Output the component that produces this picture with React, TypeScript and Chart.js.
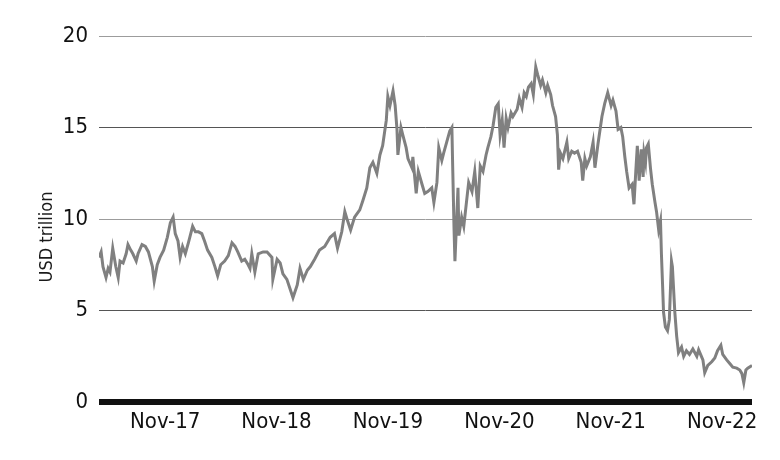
import React, { useEffect, useRef } from "react";
import { Chart, registerables } from "chart.js";

Chart.register(...registerables);

const dates: string[] = [
  "2017-04-03", "2017-04-10", "2017-04-16", "2017-04-26", "2017-05-03", "2017-05-09", "2017-05-18", "2017-05-28",
  "2017-06-05", "2017-06-11", "2017-06-21", "2017-07-01", "2017-07-07", "2017-07-16", "2017-07-23", "2017-08-03",
  "2017-08-09", "2017-08-22", "2017-09-02", "2017-09-12", "2017-09-25", "2017-10-01", "2017-10-11", "2017-10-20",
  "2017-11-01", "2017-11-13", "2017-11-23", "2017-12-02", "2017-12-09", "2017-12-18", "2017-12-25", "2018-01-02",
  "2018-01-11", "2018-01-21", "2018-02-04", "2018-02-13", "2018-02-23", "2018-03-06", "2018-03-15", "2018-03-25",
  "2018-04-08", "2018-04-18", "2018-04-27", "2018-05-07", "2018-05-20", "2018-06-01", "2018-06-13", "2018-06-23",
  "2018-07-02", "2018-07-15", "2018-07-25", "2018-08-05", "2018-08-11", "2018-08-17", "2018-08-27", "2018-09-07",
  "2018-09-23", "2018-10-06", "2018-10-22", "2018-10-25", "2018-11-08", "2018-11-18", "2018-11-27", "2018-12-10",
  "2018-12-20", "2018-12-30", "2019-01-13", "2019-01-22", "2019-02-02", "2019-02-15", "2019-02-25", "2019-03-11",
  "2019-03-27", "2019-04-13", "2019-05-01", "2019-05-15", "2019-05-25", "2019-06-08", "2019-06-18", "2019-06-27",
  "2019-07-07", "2019-07-20", "2019-08-06", "2019-08-16", "2019-08-29", "2019-09-08", "2019-09-18", "2019-10-01",
  "2019-10-11", "2019-10-20", "2019-11-01", "2019-11-06", "2019-11-13", "2019-11-23", "2019-11-30", "2019-12-06",
  "2019-12-09", "2019-12-19", "2019-12-25", "2020-01-05", "2020-01-11", "2020-01-24", "2020-01-27", "2020-02-07",
  "2020-02-14", "2020-02-26", "2020-03-06", "2020-03-16", "2020-03-29", "2020-04-05", "2020-04-15", "2020-04-21",
  "2020-05-01", "2020-05-07", "2020-05-17", "2020-05-27", "2020-06-03", "2020-06-06", "2020-06-10", "2020-06-13",
  "2020-06-19", "2020-06-23", "2020-06-26", "2020-07-05", "2020-07-12", "2020-07-22", "2020-07-28", "2020-08-08",
  "2020-08-17", "2020-08-27", "2020-09-04", "2020-09-13", "2020-09-23", "2020-09-29", "2020-10-09", "2020-10-16",
  "2020-10-25", "2020-11-02", "2020-11-08", "2020-11-15", "2020-11-21", "2020-11-28", "2020-12-04", "2020-12-14",
  "2020-12-20", "2021-01-03", "2021-01-10", "2021-01-19", "2021-01-26", "2021-02-02", "2021-02-09", "2021-02-18",
  "2021-02-25", "2021-03-05", "2021-03-11", "2021-03-21", "2021-03-27", "2021-04-07", "2021-04-13", "2021-04-23",
  "2021-04-29", "2021-05-09", "2021-05-15", "2021-05-19", "2021-05-25", "2021-06-02", "2021-06-15", "2021-06-21",
  "2021-07-01", "2021-07-10", "2021-07-20", "2021-08-01", "2021-08-06", "2021-08-13", "2021-08-19", "2021-08-31",
  "2021-09-09", "2021-09-15", "2021-09-25", "2021-10-08", "2021-10-17", "2021-10-27", "2021-11-07", "2021-11-13",
  "2021-11-23", "2021-11-30", "2021-12-09", "2021-12-15", "2021-12-22", "2021-12-28", "2022-01-05", "2022-01-15",
  "2022-01-18", "2022-01-21", "2022-01-27", "2022-02-01", "2022-02-07", "2022-02-14", "2022-02-20", "2022-02-23",
  "2022-02-28", "2022-03-03", "2022-03-09", "2022-03-16", "2022-03-22", "2022-03-31", "2022-04-05", "2022-04-12",
  "2022-04-18", "2022-04-21", "2022-04-25", "2022-04-28", "2022-05-04", "2022-05-11", "2022-05-17", "2022-05-24",
  "2022-05-27", "2022-06-04", "2022-06-10", "2022-06-16", "2022-06-26", "2022-07-03", "2022-07-12", "2022-07-22",
  "2022-08-02", "2022-08-15", "2022-08-21", "2022-09-04", "2022-09-10", "2022-09-20", "2022-10-03", "2022-10-13",
  "2022-10-22", "2022-11-02", "2022-11-08", "2022-11-21", "2022-12-01", "2022-12-11", "2022-12-24", "2023-01-03",
  "2023-01-10", "2023-01-16", "2023-01-23", "2023-01-29", "2023-02-12",
];

const values: number[] = [
  7.9, 8.2, 7.4, 6.8, 7.3, 7.1, 8.4, 7.4,
  6.8, 7.7, 7.6, 8.1, 8.6, 8.3, 8.1, 7.7,
  8.1, 8.6, 8.5, 8.2, 7.4, 6.6, 7.5, 7.9,
  8.3, 9.0, 9.8, 10.1, 9.2, 8.8, 7.9, 8.5,
  8.1, 8.7, 9.6, 9.3, 9.3, 9.2, 8.8, 8.3,
  7.9, 7.4, 6.9, 7.5, 7.7, 8.0, 8.7, 8.5,
  8.2, 7.7, 7.8, 7.5, 7.3, 8.1, 7.1, 8.1,
  8.2, 8.2, 7.9, 6.7, 7.8, 7.6, 7.0, 6.7,
  6.2, 5.7, 6.4, 7.3, 6.7, 7.2, 7.4, 7.8,
  8.3, 8.5, 9.0, 9.2, 8.4, 9.3, 10.4, 9.9,
  9.4, 10.1, 10.5, 11.0, 11.7, 12.8, 13.1, 12.5,
  13.5, 14.0, 15.4, 16.7, 16.2, 17.0, 16.2, 14.9,
  13.5, 15.0, 14.6, 13.9, 13.3, 12.8, 13.4, 11.4,
  12.6, 11.9, 11.4, 11.5, 11.7, 10.9, 12.0, 13.9,
  13.2, 13.6, 14.2, 14.8, 15.0, 12.6, 9.5, 7.7,
  10.1, 11.7, 9.1, 10.1, 9.6, 11.1, 12.0, 11.5,
  12.6, 10.6, 12.9, 12.6, 13.5, 13.9, 14.5, 15.1,
  16.1, 16.3, 14.6, 15.4, 13.9, 15.5, 15.0, 15.8,
  15.6, 16.0, 16.6, 16.1, 16.9, 16.7, 17.2, 17.4,
  16.8, 18.3, 17.9, 17.3, 17.6, 16.9, 17.3, 16.8,
  16.2, 15.6, 14.6, 12.7, 13.6, 13.3, 14.2, 13.3,
  13.7, 13.6, 13.7, 13.1, 12.1, 13.3, 12.9, 13.4,
  14.2, 12.8, 14.1, 15.6, 16.3, 16.9, 16.2, 16.5,
  15.9, 14.9, 15.0, 14.5, 13.4, 12.6, 11.7, 11.9,
  11.3, 10.8, 12.6, 14.0, 12.1, 13.8, 12.3, 13.6,
  13.1, 13.9, 14.1, 12.8, 11.9, 10.9, 10.4, 9.4,
  9.9, 8.1, 6.3, 4.9, 4.1, 3.9, 4.5, 7.7,
  7.4, 4.9, 3.6, 2.7, 3.0, 2.5, 2.8, 2.6,
  2.9, 2.5, 2.85, 2.3, 1.6, 2.0, 2.2, 2.4,
  2.8, 3.1, 2.6, 2.3, 2.1, 1.9, 1.85, 1.75,
  1.55, 1.05, 1.75, 1.85, 2.0,
];

const yTickValues: number[] = [0, 5, 10, 15, 20];
const xTickDates: string[] = ["2017-11-06", "2018-11-06", "2019-11-06", "2020-11-06", "2021-11-06", "2022-11-06"];
const xTickLabels: string[] = ["Nov-17", "Nov-18", "Nov-19", "Nov-20", "Nov-21", "Nov-22"];
const yAxisTitle = "USD trillion";

const FONT = "'Liberation Sans Narrow', 'DejaVu Sans Condensed', 'Arial Narrow', sans-serif";

export default function App() {
  const ref = useRef<HTMLCanvasElement>(null);

  useEffect(() => {
    document.body.style.margin = "0";
    if (!ref.current) return;
    const pts = dates.map((d, i) => ({ x: Date.parse(d), y: values[i] }));
    const tickVals = xTickDates.map((d) => Date.parse(d));

    const titlePlugin = {
      id: "yTitle",
      afterDraw(chart: any) {
        const ctx = chart.ctx;
        ctx.save();
        ctx.translate(47, 237);
        ctx.rotate(-Math.PI / 2);
        ctx.font = `18px ${FONT}`;
        ctx.fillStyle = "#1a1a1a";
        ctx.textAlign = "center";
        ctx.textBaseline = "middle";
        ctx.fillText(yAxisTitle, 0, 0);
        ctx.restore();
      },
    };

    const chart = new Chart(ref.current, {
      type: "line",
      data: {
        datasets: [
          {
            data: pts,
            borderColor: "#808080",
            borderWidth: 3,
            pointRadius: 0,
            tension: 0,
            fill: false,
          },
        ],
      },
      options: {
        animation: false,
        responsive: false,
        layout: { padding: { left: 0, right: 28, top: 36, bottom: 0 } },
        plugins: { legend: { display: false }, tooltip: { enabled: false } },
        scales: {
          x: {
            type: "linear",
            min: pts[0].x,
            max: pts[pts.length - 1].x,
            afterBuildTicks: (s: any) => {
              s.ticks = tickVals.map((v) => ({ value: v }));
            },
            afterFit: (s: any) => {
              s.height = 58;
            },
            grid: { display: false, drawTicks: false, tickLength: 0 },
            border: { display: false },
            ticks: {
              autoSkip: false,
              maxRotation: 0,
              minRotation: 0,
              padding: 7,
              color: "#111",
              font: { family: FONT, size: 22 },
              callback: (_v: any, i: number) => xTickLabels[i] ?? "",
            },
          },
          y: {
            min: 0,
            max: 20,
            afterBuildTicks: (s: any) => {
              s.ticks = yTickValues.map((v) => ({ value: v }));
            },
            afterFit: (s: any) => {
              s.width = 99;
            },
            border: { display: false },
            grid: {
              drawTicks: false,
              color: (c: any) => {
                const v = c.tick ? c.tick.value : 0;
                if (v === 0) return "#111111";
                return v === 10 || v === 20 ? "#9c9c9c" : "#555555";
              },
              lineWidth: (c: any) => (c.tick && c.tick.value === 0 ? 6 : 1),
            },
            ticks: {
              padding: 11,
              color: "#111",
              font: { family: FONT, size: 22 },
              callback: (v: any) => String(v),
            },
          },
        },
      },
      plugins: [titlePlugin],
    });
    return () => chart.destroy();
  }, []);

  return <canvas ref={ref} width={780} height={460} style={{ display: "block" }} />;
}
